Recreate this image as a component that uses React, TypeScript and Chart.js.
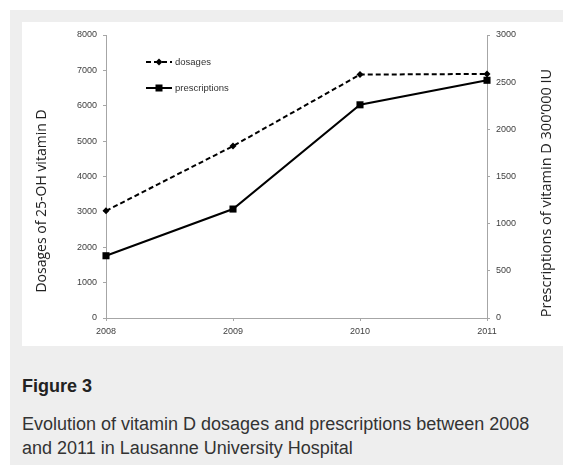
import React, { useEffect, useRef } from "react";
import { Chart, registerables } from "chart.js";

Chart.register(...registerables);

const years = ["2008", "2009", "2010", "2011"];
const dosages = [3030, 4860, 6880, 6900];
const prescriptions = [660, 1155, 2260, 2520];
const leftAxisMax = 8000;
const leftAxisStep = 1000;
const rightAxisMax = 3000;
const rightAxisStep = 500;
const leftTitle = "Dosages of 25-OH vitamin D";
const rightTitle = "Prescriptions of vitamin D 300\u2019000 IU";
const legendLabels = ["dosages", "prescriptions"];
const captionTitle = "Figure 3";
const captionText =
  "Evolution of vitamin D dosages and prescriptions between 2008 and 2011 in Lausanne University Hospital";

const AXIS_COLOR = "#a6a6a6";
const TICK_COLOR = "#404040";
const TICK_FONT = { family: "'Liberation Sans', Arial, sans-serif", size: 9 };

const overlayPlugin = {
  id: "overlay",
  afterDraw(chart: any) {
    const ctx = chart.ctx as CanvasRenderingContext2D;
    const area = chart.chartArea;
    ctx.save();
    // legend
    const lx0 = area.left + 40;
    const lx1 = lx0 + 26;
    const mx = (lx0 + lx1) / 2;
    const rows = [area.top + 27, area.top + 53];
    ctx.strokeStyle = "#000";
    ctx.fillStyle = "#000";
    ctx.lineWidth = 2;
    // dosages
    ctx.setLineDash([5, 3]);
    ctx.beginPath();
    ctx.moveTo(lx0, rows[0]);
    ctx.lineTo(lx1, rows[0]);
    ctx.stroke();
    ctx.setLineDash([]);
    ctx.beginPath();
    const d = 3.5;
    ctx.moveTo(mx, rows[0] - d);
    ctx.lineTo(mx + d, rows[0]);
    ctx.lineTo(mx, rows[0] + d);
    ctx.lineTo(mx - d, rows[0]);
    ctx.closePath();
    ctx.fill();
    // prescriptions
    ctx.beginPath();
    ctx.moveTo(lx0, rows[1]);
    ctx.lineTo(lx1, rows[1]);
    ctx.stroke();
    ctx.fillRect(mx - 3.5, rows[1] - 3.5, 7, 7);
    ctx.fillStyle = "#333";
    ctx.font = "9.5px 'Liberation Sans', Arial, sans-serif";
    ctx.textBaseline = "middle";
    ctx.textAlign = "left";
    ctx.fillText(legendLabels[0], lx1 + 3, rows[0]);
    ctx.fillText(legendLabels[1], lx1 + 3, rows[1]);

    // axis titles
    ctx.fillStyle = "#222";
    ctx.textAlign = "center";
    ctx.save();
    ctx.font = "14px 'Open Sans', sans-serif";
    ctx.translate(20, 179);
    ctx.rotate(-Math.PI / 2);
    ctx.fillText(leftTitle, 0, 0);
    ctx.restore();
    ctx.save();
    ctx.font = "14.5px 'Open Sans', sans-serif";
    ctx.translate(525, 171);
    ctx.rotate(-Math.PI / 2);
    ctx.fillText(rightTitle, 0, 0);
    ctx.restore();
    ctx.restore();
  },
};

const plain = (v: any) => String(v);

function ChartPanel() {
  const ref = useRef<HTMLCanvasElement | null>(null);
  useEffect(() => {
    if (!ref.current) return;
    const chart = new Chart(ref.current, {
      type: "line",
      data: {
        labels: years,
        datasets: [
          {
            label: legendLabels[0],
            data: dosages,
            yAxisID: "y",
            borderColor: "#000",
            backgroundColor: "#000",
            borderWidth: 2,
            borderDash: [5, 3],
            pointStyle: "rectRot",
            pointRadius: 3.5,
            pointBorderWidth: 0,
            tension: 0,
          },
          {
            label: legendLabels[1],
            data: prescriptions,
            yAxisID: "y1",
            borderColor: "#000",
            backgroundColor: "#000",
            borderWidth: 2,
            pointStyle: "rect",
            pointRadius: 5,
            pointBorderWidth: 0,
            tension: 0,
          },
        ],
      },
      options: {
        animation: false,
        responsive: false,
        devicePixelRatio: 1,
        layout: { padding: { top: 13, left: 0, right: 0, bottom: 0 } },
        plugins: { legend: { display: false }, tooltip: { enabled: false } },
        scales: {
          x: {
            type: "category",
            offset: false,
            grid: { drawOnChartArea: false, drawTicks: true, tickLength: 3, color: AXIS_COLOR },
            border: { color: AXIS_COLOR, width: 1 },
            ticks: { padding: 5, font: TICK_FONT, color: TICK_COLOR, maxRotation: 0 },
            afterFit: (s: any) => {
              s.height = 28;
            },
          },
          y: {
            position: "left",
            min: 0,
            max: leftAxisMax,
            grid: { drawOnChartArea: false, drawTicks: true, tickLength: 3, color: AXIS_COLOR },
            border: { color: AXIS_COLOR, width: 1 },
            ticks: { stepSize: leftAxisStep, padding: 6, font: TICK_FONT, color: TICK_COLOR, callback: plain },
            afterFit: (s: any) => {
              s.width = 84;
            },
          },
          y1: {
            position: "right",
            min: 0,
            max: rightAxisMax,
            grid: { drawOnChartArea: false, drawTicks: true, tickLength: 3, color: AXIS_COLOR },
            border: { color: AXIS_COLOR, width: 1 },
            ticks: { stepSize: rightAxisStep, padding: 6, font: TICK_FONT, color: TICK_COLOR, callback: plain },
            afterFit: (s: any) => {
              s.width = 76;
            },
          },
        },
      },
      plugins: [overlayPlugin],
    });
    return () => chart.destroy();
  }, []);
  return <canvas ref={ref} width={541} height={324} style={{ display: "block" }} />;
}

export default function App() {
  useEffect(() => {
    document.body.style.margin = "0";
  }, []);
  return (
    <div style={{ position: "relative", width: 563, height: 465, background: "#fff", overflow: "hidden" }}>
      <div style={{ position: "absolute", left: 10, top: 10, width: 553, height: 455, background: "#eeeeee" }} />
      <div style={{ position: "absolute", left: 22, top: 22, width: 541, height: 324, background: "#fff" }}>
        <ChartPanel />
      </div>
      <div
        style={{
          position: "absolute",
          left: 22,
          top: 374,
          width: 525,
          fontFamily: "'Liberation Sans', Arial, sans-serif",
          color: "#333",
        }}
      >
        <div style={{ fontWeight: "bold", fontSize: 18, lineHeight: "24px", color: "#222" }}>{captionTitle}</div>
        <div style={{ fontSize: 18, lineHeight: "24px", marginTop: 14 }}>{captionText}</div>
      </div>
    </div>
  );
}
